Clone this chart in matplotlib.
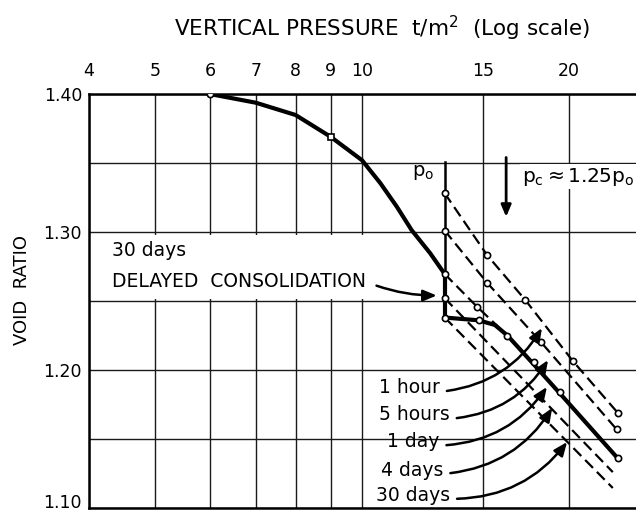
import matplotlib
matplotlib.use("Agg")
import matplotlib.pyplot as plt
import matplotlib.transforms as mtransforms
from matplotlib.patches import Rectangle
from matplotlib.ticker import NullLocator

# pressure axis ticks (t/m2) and void ratio ticks
press_ticks = [4, 5, 6, 7, 8, 9, 10, 15, 20]
e_major = [1.10, 1.20, 1.30, 1.40]
e_minor = [1.15, 1.25, 1.35]

# overburden pressure p0 and preconsolidation pressure pc
p0 = 13.2
pc = 16.22

# loading curve up to p0
curve_p = [6, 7, 8, 9, 10, 10.63, 11.24, 11.81, 12.57, 13.2]
curve_e = [1.400, 1.3937, 1.3848, 1.369, 1.352, 1.3355, 1.3183, 1.3014, 1.2846, 1.2695]

# 30 days delayed consolidation under p0
delayed_e = [1.2695, 1.238]

# reloading after delayed consolidation
reload_p = [13.2, 14.8, 15.62, 16.29, 17.8, 19.43, 23.59]
reload_e = [1.238, 1.236, 1.2326, 1.225, 1.204, 1.183, 1.136]

# lines of equal load duration
hour1_p = [13.2, 15.23, 17.28, 20.29, 23.59]
hour1_e = [1.328, 1.283, 1.251, 1.2065, 1.169]
hour5_p = [13.2, 15.23, 18.21, 23.5]
hour5_e = [1.301, 1.263, 1.2205, 1.157]
day1_p = [13.2, 14.7, 16.29]
day1_e = [1.2695, 1.246, 1.225]
day4_p = [13.2, 23.2]
day4_e = [1.252, 1.126]
day30_p = [13.2, 23.2]
day30_e = [1.238, 1.1145]

# measured points
pts_p = [6, 13.2, 13.2, 13.2, 13.2, 13.2, 15.23, 17.28, 20.29, 23.59,
         15.23, 18.21, 23.5, 14.7, 14.8, 16.29, 17.8, 19.43, 23.59]
pts_e = [1.400, 1.328, 1.301, 1.2695, 1.252, 1.238, 1.283, 1.251, 1.2065, 1.169,
         1.263, 1.2205, 1.157, 1.246, 1.236, 1.225, 1.206, 1.184, 1.136]

# duration labels: text, text position, arrow tip
dur_labels = ["1 hour", "5 hours", "1 day", "4 days", "30 days"]
dur_text_p = [10.59, 10.59, 10.88, 10.66, 10.48]
dur_text_e = [1.187, 1.1674, 1.148, 1.1275, 1.1094]
dur_tip_p = [18.29, 18.67, 18.6, 18.93, 19.9]
dur_tip_e = [1.2304, 1.2072, 1.1877, 1.1725, 1.1478]

plt.rcParams['font.family'] = 'DejaVu Sans'
plt.rcParams['mathtext.default'] = 'regular'

fig = plt.figure(figsize=(6.36, 5.13), dpi=100)
ax = fig.add_axes([89 / 636, 5 / 513, 1 - 89 / 636, 414 / 513])
ax.set_xscale('log')
ax.set_xlim(4, 25.08)
ax.set_ylim(1.10, 1.40)

ax.set_xticks(press_ticks)
ax.set_xticklabels([str(t) for t in press_ticks])
ax.xaxis.set_minor_locator(NullLocator())
ax.xaxis.tick_top()
ax.set_yticks(e_major)
ax.set_yticklabels(["%.2f" % v for v in e_major])
ax.set_yticks(e_minor, minor=True)
ax.tick_params(which='both', length=0)
ax.tick_params(axis='x', pad=10, labelsize=12.5)
ax.tick_params(axis='y', pad=5, labelsize=12.5)
# bottom label sits above the frame line so it stays inside the figure
lift = mtransforms.ScaledTranslation(0, 7 / 100, fig.dpi_scale_trans)
bottom_lab = ax.get_yticklabels()[0]
bottom_lab.set_transform(bottom_lab.get_transform() + lift)

ax.set_axisbelow(True)
ax.grid(True, which='both', color='0.1', lw=1.0)
for s in ['left', 'top', 'bottom']:
    ax.spines[s].set_linewidth(1.8)
ax.spines['right'].set_visible(False)

# blank band behind the delayed consolidation note
ax.add_patch(Rectangle((4, 1.2515), 7, 0.046, facecolor='white',
                       edgecolor='none', zorder=1))

dash = (0, (5, 2.5))
for px, ey in [(hour1_p, hour1_e), (hour5_p, hour5_e), (day1_p, day1_e),
               (day4_p, day4_e), (day30_p, day30_e)]:
    ax.plot(px, ey, color='black', lw=1.6, ls=dash, zorder=3)

ax.plot([p0, p0], [1.351, delayed_e[0]], color='black', lw=1.8, zorder=3)
ax.plot(curve_p, curve_e, color='black', lw=3.0, solid_capstyle='round',
        solid_joinstyle='round', zorder=4)
ax.plot([p0, p0], delayed_e, color='black', lw=3.0, zorder=4)
ax.plot(reload_p, reload_e, color='black', lw=3.0, solid_capstyle='round',
        solid_joinstyle='round', zorder=4)

ax.plot(pts_p, pts_e, ls='none', marker='o', ms=4.5, mfc='white', mec='black',
        mew=1.2, zorder=5)
ax.plot([9], [1.369], ls='none', marker='s', ms=4, mfc='white', mec='black',
        mew=1.2, zorder=5)

for lab, tx, ty, ax_, ay in zip(dur_labels, dur_text_p, dur_text_e, dur_tip_p, dur_tip_e):
    ax.annotate(lab, xy=(ax_, ay), xytext=(tx, ty), fontsize=13.5,
                ha='left', va='center', zorder=6,
                arrowprops=dict(arrowstyle='-|>,head_length=0.6,head_width=0.25',
                                color='black', lw=1.8, shrinkA=3, shrinkB=0,
                                relpos=(1.0, 0.3),
                                connectionstyle='arc3,rad=0.25'))

ax.text(4.32, 1.2864, "30 days", fontsize=13.5, ha='left', va='center', zorder=6)
ax.annotate("DELAYED  CONSOLIDATION", xy=(12.85, 1.254), xytext=(4.32, 1.264),
            fontsize=13.5, ha='left', va='center', zorder=6,
            arrowprops=dict(arrowstyle='-|>,head_length=0.6,head_width=0.25',
                            color='black', lw=1.8, shrinkA=6, shrinkB=0,
                            relpos=(1.0, 0.5),
                            connectionstyle='arc3,rad=0.1'))

ax.text(12.27, 1.3428, r"$p_o$", fontsize=14, ha='center', va='center', zorder=6)
ax.text(17.1, 1.340, r"$p_c \approx 1.25p_o$", fontsize=14.5, ha='left', va='center',
        zorder=6, bbox=dict(facecolor='white', edgecolor='none', pad=1))
ax.annotate("", xy=(pc, 1.311), xytext=(pc, 1.354),
            arrowprops=dict(arrowstyle='-|>,head_length=0.7,head_width=0.3',
                            color='black', lw=2.0, shrinkA=0, shrinkB=0), zorder=6)

fig.text(382 / 636, 1 - 28 / 513, r"VERTICAL PRESSURE  t/m$^2$  (Log scale)",
         fontsize=15.5, ha='center', va='center')
fig.text(22 / 636, 1 - 290 / 513, "VOID  RATIO", fontsize=13, rotation=90,
         ha='center', va='center')

fig.savefig("out.png", dpi=100)
